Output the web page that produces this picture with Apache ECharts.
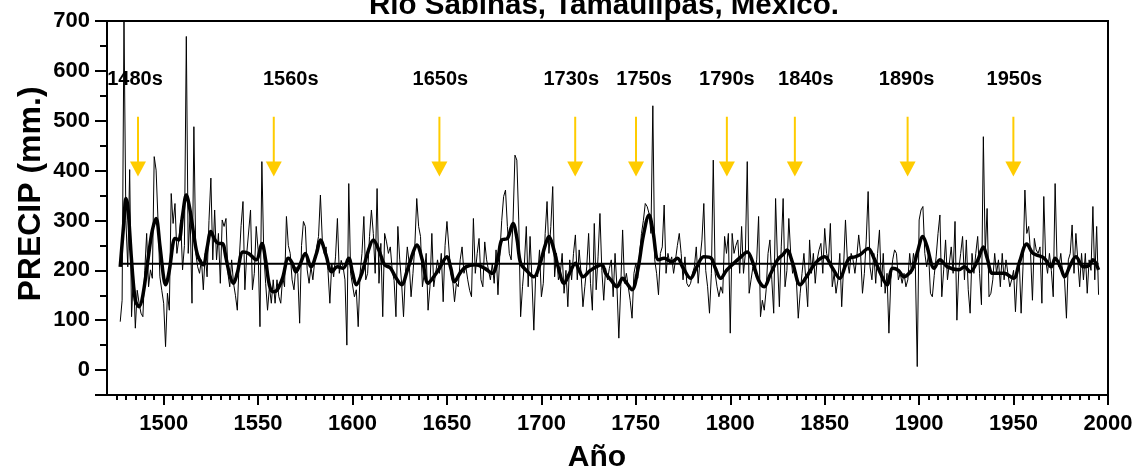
<!DOCTYPE html>
<html>
<head>
<meta charset="utf-8">
<script src="https://cdn.jsdelivr.net/npm/echarts@6/dist/echarts.min.js"></script>
<style>html,body{margin:0;padding:0;background:#fff;}#chart{width:1138px;height:474px;}</style>
</head>
<body>
<div id="chart"></div>
<script>
// ---------------- DATA ----------------
const startYear = 1477;
// annual precipitation (mm)
const precip1477_1599 = [
  97, 140, 700,
  300, 207, 402, 107, 194, 84, 160, 134, 114, 107,
  200, 274, 167, 201, 184, 428, 401, 301, 187, 160,
  134, 47, 154, 120, 354, 294, 334, 234, 261, 301,
  201, 250, 669, 234, 314, 134, 488, 234, 207, 194,
  221, 161, 234, 187, 300, 385, 221, 321, 221, 274,
  174, 301, 288, 304, 194, 167, 221, 174, 150, 120,
  221, 290, 338, 161, 234, 234, 321, 161, 194, 288,
  241, 87, 418, 234, 174, 120, 167, 134, 181, 134,
  181, 147, 134, 187, 167, 308, 250, 234, 181, 161,
  207, 194, 94, 250, 298, 288, 201, 174, 207, 181,
  220, 247, 268, 351, 261, 234, 247, 200, 134, 214,
  187, 227, 304, 194, 220, 207, 181, 50, 374, 194
];
const precip1600_1699 = [
  194, 147, 161, 87, 194, 234, 308, 181, 194, 268,
  321, 274, 194, 364, 174, 254, 107, 274, 257, 234,
  247, 201, 180, 107, 288, 221, 174, 107, 194, 247,
  214, 147, 194, 250, 344, 288, 268, 167, 194, 234,
  120, 167, 274, 167, 194, 221, 194, 234, 137, 250,
  298, 301, 194, 181, 137, 174, 167, 221, 247, 194,
  207, 181, 160, 147, 304, 194, 234, 264, 181, 167,
  257, 221, 200, 181, 214, 174, 241, 151, 234, 300,
  348, 361, 288, 234, 221, 301, 431, 421, 301, 107,
  167, 214, 288, 167, 268, 181, 80, 194, 187, 241
];
const precip1700_1799 = [
  147, 174, 274, 338, 234, 288, 368, 187, 234, 181,
  194, 234, 154, 200, 127, 221, 181, 234, 271, 181,
  241, 194, 127, 167, 207, 274, 174, 120, 294, 161,
  227, 314, 200, 140, 204, 181, 204, 221, 147, 234,
  167, 64, 167, 281, 174, 194, 167, 140, 104, 194,
  214, 184, 234, 274, 300, 334, 328, 314, 274, 530,
  221, 194, 151, 234, 247, 331, 194, 234, 214, 227,
  194, 221, 250, 274, 234, 181, 227, 174, 167, 174,
  194, 207, 247, 174, 221, 261, 334, 200, 167, 114,
  194, 421, 194, 167, 147, 167, 154, 268, 234, 274
];
const precip1800_1899 = [
  74, 274, 234, 250, 261, 194, 288, 194, 234, 418,
  154, 181, 207, 194, 221, 308, 107, 140, 120, 161,
  234, 261, 181, 114, 344, 221, 127, 247, 344, 167,
  200, 304, 234, 194, 207, 181, 104, 154, 194, 234,
  181, 127, 261, 194, 234, 174, 221, 241, 254, 194,
  284, 234, 220, 294, 167, 194, 154, 181, 234, 127,
  207, 301, 221, 194, 234, 221, 194, 227, 271, 234,
  154, 194, 261, 358, 207, 181, 234, 174, 234, 281,
  167, 234, 154, 194, 74, 181, 221, 241, 234, 181,
  194, 174, 194, 167, 181, 234, 194, 234, 207, 7
];
const precip1900_1995 = [
  301, 321, 328, 234, 207, 234, 154, 147, 190, 227,
  274, 311, 147, 201, 261, 181, 214, 247, 194, 298,
  100, 201, 234, 268, 181, 261, 161, 114, 234, 194,
  234, 268, 194, 131, 468, 234, 324, 147, 154, 181,
  234, 194, 221, 167, 234, 181, 221, 194, 167, 181,
  200, 117, 194, 221, 114, 207, 361, 274, 288, 234,
  140, 264, 241, 234, 247, 134, 348, 221, 194, 234,
  200, 147, 374, 221, 207, 234, 194, 181, 104, 221,
  234, 291, 194, 274, 221, 167, 234, 181, 234, 154,
  221, 200, 328, 181, 288, 151
];
// smoothed curve (thick line)
const smoothYears = [1477,1479,1480,1481,1483,1485,1487,1489,1492,1494,1496,1498,1500,1501,1503,1505,1506,1508,1510,1512,1514,1516,1518,1521,1523,1525,1527,1529,1531,1533,1535,1537,1539,1542,1545,1549,1552,1554,1556,1558,1560,1563,1566,1568,1570,1572,1575,1578,1581,1583,1586,1589,1592,1595,1598,1600,1602,1605,1608,1611,1614,1617,1620,1623,1626,1629,1632,1634,1637,1640,1643,1646,1650,1652,1654,1657,1660,1665,1670,1674,1677,1679,1682,1685,1687,1689,1692,1696,1699,1702,1704,1706,1709,1712,1715,1718,1720,1722,1726,1732,1734,1737,1740,1743,1745,1748,1751,1754,1757,1759,1762,1765,1769,1772,1775,1779,1782,1786,1790,1792,1795,1798,1801,1805,1809,1812,1815,1818,1821,1825,1828,1830,1833,1837,1840,1845,1850,1854,1858,1861,1863,1866,1869,1873,1876,1880,1883,1886,1889,1892,1895,1897,1899,1902,1904,1908,1911,1915,1921,1924,1927,1931,1934,1936,1939,1945,1950,1953,1957,1960,1962,1966,1970,1972,1975,1977,1980,1983,1987,1990,1992,1995];
const smoothValues = [207,300,344,330,220,140,127,150,230,280,304,250,185,171,200,255,264,261,310,351,320,270,230,211,245,278,262,254,254,225,190,174,195,237,234,221,254,220,170,157,160,185,224,215,197,210,234,207,235,261,230,197,207,204,224,195,171,195,235,261,240,211,205,185,171,200,235,251,220,174,187,204,227,205,177,195,207,211,204,194,225,261,264,294,265,214,200,187,210,250,268,250,205,174,195,214,200,187,200,211,194,180,167,184,175,161,200,270,311,280,221,224,217,224,205,184,205,227,224,205,184,200,211,225,237,215,180,167,190,221,232,241,215,171,185,214,227,205,184,210,224,227,232,244,225,190,171,204,200,187,195,207,235,268,250,204,221,207,201,207,197,220,247,225,194,194,184,215,253,235,231,225,207,224,205,187,210,227,207,210,221,201];
const meanValue = 213;
// annotations: label text, label year position, arrow year position
const annotLabels = ['1480s','1560s','1650s','1730s','1750s','1790s','1840s','1890s','1950s'];
const annotLabelYears = [1484.8,1567.3,1646.5,1715.8,1754.4,1798.2,1840,1893.4,1950.4];
const annotArrowYears = [1486.4,1558.3,1646,1717.9,1750.1,1798.2,1834.2,1893.9,1949.9];
// axis ticks / labels
const xTickLabels = [1500,1550,1600,1650,1700,1750,1800,1850,1900,1950,2000];
const yTickLabels = [0,100,200,300,400,500,600,700];
const yMajorTicks = [-50,0,100,200,300,400,500,600,700];
const yMinorTicks = [50,150,250,350,450,550,650];

// ---------------- BUILD ----------------
const precip = [].concat(precip1477_1599, precip1600_1699, precip1700_1799, precip1800_1899, precip1900_1995);
const rawData = precip.map((v, i) => [startYear + i, v]);
const endYear = startYear + precip.length - 1;
const smoothData = smoothYears.map((y, i) => [y, smoothValues[i]]);
const meanData = [[startYear, meanValue], [endYear, meanValue]];
const xMinorTicks = [];
for (let y = 1475; y < 2000; y += 5) if (y % 50 !== 0) xMinorTicks.push(y);

const FONT = 'Liberation Sans, Arial, Helvetica, sans-serif';
const LABEL_V = 582, ARROW_TOP_V = 508, HEAD_BASE_V = 418, ARROW_TIP_V = 388;
const YELLOW = '#FFCC00';
const plain = v => String(v);

const chart = echarts.init(document.getElementById('chart'), null, {renderer: 'canvas'});
const option = {
  animation: false,
  backgroundColor: '#fff',
  grid: {left: 107, right: 30, top: 21, bottom: 79, show: true, borderColor: '#000', borderWidth: 2},
  xAxis: [
    {
      type: 'value', min: 1470, max: 2000,
      axisLine: {show: true, onZero: false, lineStyle: {color: '#000', width: 2}},
      axisTick: {show: true, customValues: xTickLabels, length: 10, lineStyle: {color: '#000', width: 2}},
      axisLabel: {customValues: xTickLabels, formatter: plain, margin: 18, fontSize: 22, fontWeight: 'bold', color: '#000', fontFamily: FONT},
      splitLine: {show: false}
    },
    {
      type: 'value', min: 1470, max: 2000, position: 'bottom',
      axisLine: {show: false, onZero: false},
      axisTick: {show: true, customValues: xMinorTicks, length: 5, lineStyle: {color: '#000', width: 2}},
      axisLabel: {show: false},
      splitLine: {show: false}
    }
  ],
  yAxis: [
    {
      type: 'value', min: -50, max: 700,
      axisLine: {show: true, onZero: false, lineStyle: {color: '#000', width: 2}},
      axisTick: {show: true, customValues: yMajorTicks, length: 12, lineStyle: {color: '#000', width: 2}},
      axisLabel: {customValues: yTickLabels, formatter: plain, margin: 17, fontSize: 22, fontWeight: 'bold', color: '#000', fontFamily: FONT},
      splitLine: {show: false}
    },
    {
      type: 'value', min: -50, max: 700, position: 'left',
      axisLine: {show: false, onZero: false},
      axisTick: {show: true, customValues: yMinorTicks, length: 7, lineStyle: {color: '#000', width: 2}},
      axisLabel: {show: false},
      splitLine: {show: false}
    }
  ],
  graphic: [
    {type: 'text', x: 604, y: 6, style: {text: 'Río Sabinas, Tamaulipas, México.', x: 0, y: 0, align: 'center', verticalAlign: 'middle', fontSize: 29.5, fontWeight: 'bold', fontFamily: FONT, fill: '#000'}},
    {type: 'text', x: 31, y: 194, rotation: Math.PI / 2, style: {text: 'PRECIP (mm.)', x: 0, y: 0, align: 'center', verticalAlign: 'middle', fontSize: 32, fontWeight: 'bold', fontFamily: FONT, fill: '#000'}},
    {type: 'text', x: 597, y: 458, style: {text: 'Año', x: 0, y: 0, align: 'center', verticalAlign: 'middle', fontSize: 30, fontWeight: 'bold', fontFamily: FONT, fill: '#000'}}
  ],
  series: [
    {
      type: 'line', data: rawData, symbol: 'none', xAxisIndex: 0, yAxisIndex: 0,
      lineStyle: {color: '#000', width: 1}, z: 2, silent: true
    },
    {
      type: 'line', data: meanData, symbol: 'none', xAxisIndex: 0, yAxisIndex: 0,
      lineStyle: {color: '#000', width: 2}, z: 3, silent: true
    },
    {
      type: 'line', data: smoothData, symbol: 'none', smooth: 0.35, xAxisIndex: 0, yAxisIndex: 0,
      lineStyle: {color: '#000', width: 3.5}, z: 4, silent: true
    },
    {
      type: 'custom', xAxisIndex: 0, yAxisIndex: 0, clip: false, z: 10, silent: true,
      data: annotLabels.map((t, i) => [annotLabelYears[i], annotArrowYears[i]]),
      renderItem: function (params, api) {
        const lp = api.coord([api.value(0), LABEL_V]);
        const top = api.coord([api.value(1), ARROW_TOP_V]);
        const base = api.coord([api.value(1), HEAD_BASE_V]);
        const tip = api.coord([api.value(1), ARROW_TIP_V]);
        return {
          type: 'group',
          children: [
            {type: 'text', style: {text: annotLabels[params.dataIndex], x: lp[0], y: lp[1], align: 'center', verticalAlign: 'middle', fontSize: 20, fontWeight: 'bold', fontFamily: FONT, fill: '#000'}},
            {type: 'line', shape: {x1: top[0], y1: top[1], x2: base[0], y2: base[1] + 2}, style: {stroke: YELLOW, lineWidth: 2}},
            {type: 'polygon', shape: {points: [[tip[0] - 8, base[1]], [tip[0] + 8, base[1]], [tip[0], tip[1]]]}, style: {fill: YELLOW}}
          ]
        };
      }
    }
  ]
};
chart.setOption(option);
</script>
</body>
</html>
